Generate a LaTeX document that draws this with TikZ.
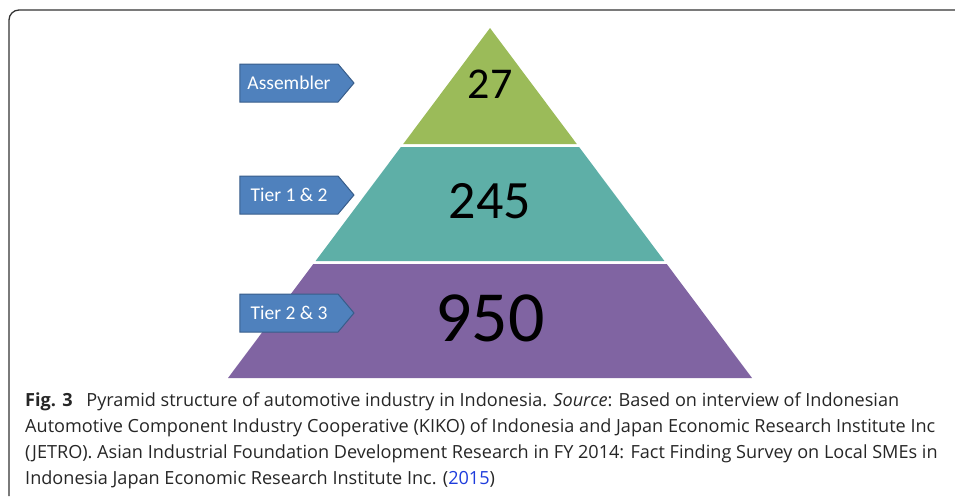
\documentclass[tikz,border=0pt]{standalone}
\usepackage{fontspec}
\setmainfont{Open Sans}
\newfontfamily\calibri{Carlito}
\usetikzlibrary{shapes.symbols}
\definecolor{tierblue}{RGB}{79,129,189}
\definecolor{tierline}{RGB}{56,93,138}
\definecolor{topgreen}{RGB}{155,187,89}
\definecolor{midteal}{RGB}{94,175,167}
\definecolor{basepurple}{RGB}{128,100,162}
\definecolor{citeblue}{RGB}{30,60,220}

\begin{document}
\begin{tikzpicture}[
  x=1pt, y=-1pt,
  tier/.style={signal, signal to=east, signal pointer angle=100, draw=tierline, fill=tierblue,
    line width=1pt, minimum width=114pt, minimum height=38pt, inner xsep=6pt, text=white,
    font=\calibri\fontsize{19.5}{22}\selectfont},
  count/.style={text=black, inner sep=0pt},
  capline/.style={anchor=base west, inner sep=0pt, font=\fontsize{18.1}{22}\selectfont, text=black!85}
]
  \useasboundingbox (0,0) rectangle (955,496);
  % frame
  \draw[line width=1.3pt, black!80] (9,496) -- (9,20) arc[start angle=180, end angle=270, radius=10] -- (955,10);

  % pyramid bands
  \fill[topgreen] (490,28) -- (576.8,144) -- (403.2,144) -- cycle;
  \fill[midteal] (400.9,147) -- (579.1,147) -- (664.4,261) -- (315.6,261) -- cycle;
  \fill[basepurple] (313.3,264) -- (666.7,264) -- (752,378) -- (228,378) -- cycle;

  % counts
  \node[count, font=\calibri\fontsize{44}{44}\selectfont] (assembler-n) at (490,84) {27};
  \node[count, font=\calibri\fontsize{54}{54}\selectfont] (tier12-n) at (490,201) {245};
  \node[count, font=\calibri\fontsize{72}{72}\selectfont] (tier23-n) at (490,318) {950};

  % labels
  \node[tier] (assembler) at (289,83) {Assembler};
  \node[tier] (tier12) at (289,195) {Tier 1 \& 2};
  \node[tier] (tier23) at (289,313) {Tier 2 \& 3};

  % caption
  \node[capline] (cap1) at (25,406) {\textbf{Fig. 3}\hspace{0.5em} Pyramid structure of automotive industry in Indonesia. \textit{Source}: Based on interview of Indonesian};
  \node[capline] (cap2) at (25,432) {Automotive Component Industry Cooperative (KIKO) of Indonesia and Japan Economic Research Institute Inc};
  \node[capline] (cap3) at (25,458) {(JETRO). Asian Industrial Foundation Development Research in FY 2014: Fact Finding Survey on Local SMEs in};
  \node[capline] (cap4) at (25,484) {Indonesia Japan Economic Research Institute Inc. ({\color{citeblue}2015})};
\end{tikzpicture}
\end{document}
